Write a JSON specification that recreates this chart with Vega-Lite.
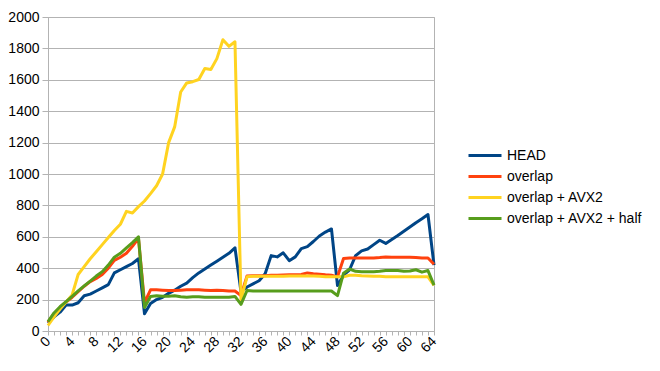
{
  "$schema": "https://vega.github.io/schema/vega-lite/v6.json",
  "width": 386,
  "height": 314,
  "autosize": {"type": "none"},
  "padding": {"left": 48, "top": 17, "right": 226, "bottom": 40},
  "background": "white",
  "config": {
    "view": {"stroke": "#b3b3b3", "strokeWidth": 1},
    "font": "Liberation Sans",
    "axis": {"labelFont": "Liberation Sans", "labelFontSize": 14, "labelColor": "#000000", "domainColor": "#b3b3b3", "tickColor": "#b3b3b3", "gridColor": "#b3b3b3", "title": null}
  },
  "datasets": {
    "head": [
      {"x":0,"v":50},{"x":1,"v":90},{"x":2,"v":120},{"x":3,"v":165},{"x":4,"v":165},{"x":5,"v":180},{"x":6,"v":225},{"x":7,"v":235},{"x":8,"v":255},{"x":9,"v":275},{"x":10,"v":295},{"x":11,"v":370},{"x":12,"v":390},{"x":13,"v":410},{"x":14,"v":430},{"x":15,"v":460},
      {"x":16,"v":110},{"x":17,"v":175},{"x":18,"v":200},{"x":19,"v":215},{"x":20,"v":240},{"x":21,"v":260},{"x":22,"v":285},{"x":23,"v":305},{"x":24,"v":340},{"x":25,"v":370},{"x":26,"v":395},{"x":27,"v":420},{"x":28,"v":445},{"x":29,"v":470},{"x":30,"v":495},{"x":31,"v":530},
      {"x":32,"v":250},{"x":33,"v":280},{"x":34,"v":300},{"x":35,"v":320},{"x":36,"v":365},{"x":37,"v":480},{"x":38,"v":472},{"x":39,"v":498},{"x":40,"v":448},{"x":41,"v":472},{"x":42,"v":525},{"x":43,"v":537},{"x":44,"v":570},{"x":45,"v":605},{"x":46,"v":630},{"x":47,"v":650},
      {"x":48,"v":290},{"x":49,"v":355},{"x":50,"v":390},{"x":51,"v":480},{"x":52,"v":510},{"x":53,"v":522},{"x":54,"v":550},{"x":55,"v":578},{"x":56,"v":558},{"x":57,"v":583},{"x":58,"v":608},{"x":59,"v":635},{"x":60,"v":662},{"x":61,"v":690},{"x":62,"v":715},{"x":63,"v":742},
      {"x":64,"v":420}
    ],
    "overlap": [
      {"x":0,"v":55},{"x":1,"v":110},{"x":2,"v":150},{"x":3,"v":185},{"x":4,"v":215},{"x":5,"v":250},{"x":6,"v":285},{"x":7,"v":315},{"x":8,"v":335},{"x":9,"v":360},{"x":10,"v":400},{"x":11,"v":450},{"x":12,"v":470},{"x":13,"v":495},{"x":14,"v":540},{"x":15,"v":590},
      {"x":16,"v":180},{"x":17,"v":262},{"x":18,"v":262},{"x":19,"v":260},{"x":20,"v":258},{"x":21,"v":258},{"x":22,"v":260},{"x":23,"v":262},{"x":24,"v":262},{"x":25,"v":262},{"x":26,"v":260},{"x":27,"v":258},{"x":28,"v":260},{"x":29,"v":258},{"x":30,"v":255},{"x":31,"v":255},
      {"x":32,"v":225},{"x":33,"v":350},{"x":34,"v":352},{"x":35,"v":352},{"x":36,"v":352},{"x":37,"v":355},{"x":38,"v":355},{"x":39,"v":357},{"x":40,"v":358},{"x":41,"v":358},{"x":42,"v":360},{"x":43,"v":370},{"x":44,"v":365},{"x":45,"v":362},{"x":46,"v":358},{"x":47,"v":355},
      {"x":48,"v":345},{"x":49,"v":462},{"x":50,"v":465},{"x":51,"v":465},{"x":52,"v":465},{"x":53,"v":465},{"x":54,"v":465},{"x":55,"v":468},{"x":56,"v":472},{"x":57,"v":470},{"x":58,"v":470},{"x":59,"v":470},{"x":60,"v":470},{"x":61,"v":468},{"x":62,"v":465},{"x":63,"v":465},
      {"x":64,"v":425}
    ],
    "avx2": [
      {"x":0,"v":35},{"x":1,"v":90},{"x":2,"v":140},{"x":3,"v":185},{"x":4,"v":230},{"x":5,"v":360},{"x":6,"v":410},{"x":7,"v":460},{"x":8,"v":505},{"x":9,"v":550},{"x":10,"v":595},{"x":11,"v":640},{"x":12,"v":680},{"x":13,"v":762},{"x":14,"v":752},{"x":15,"v":792},
      {"x":16,"v":828},{"x":17,"v":875},{"x":18,"v":925},{"x":19,"v":1000},{"x":20,"v":1200},{"x":21,"v":1300},{"x":22,"v":1522},{"x":23,"v":1580},{"x":24,"v":1588},{"x":25,"v":1602},{"x":26,"v":1672},{"x":27,"v":1666},{"x":28,"v":1735},{"x":29,"v":1855},{"x":30,"v":1813},{"x":31,"v":1842},
      {"x":32,"v":200},{"x":33,"v":345},{"x":34,"v":348},{"x":35,"v":348},{"x":36,"v":348},{"x":37,"v":348},{"x":38,"v":348},{"x":39,"v":348},{"x":40,"v":350},{"x":41,"v":350},{"x":42,"v":350},{"x":43,"v":350},{"x":44,"v":350},{"x":45,"v":348},{"x":46,"v":345},{"x":47,"v":345},
      {"x":48,"v":345},{"x":49,"v":345},{"x":50,"v":355},{"x":51,"v":355},{"x":52,"v":352},{"x":53,"v":350},{"x":54,"v":348},{"x":55,"v":348},{"x":56,"v":345},{"x":57,"v":345},{"x":58,"v":345},{"x":59,"v":345},{"x":60,"v":345},{"x":61,"v":345},{"x":62,"v":345},{"x":63,"v":345},
      {"x":64,"v":290}
    ],
    "half": [
      {"x":0,"v":60},{"x":1,"v":115},{"x":2,"v":155},{"x":3,"v":187},{"x":4,"v":220},{"x":5,"v":255},{"x":6,"v":287},{"x":7,"v":318},{"x":8,"v":350},{"x":9,"v":378},{"x":10,"v":420},{"x":11,"v":470},{"x":12,"v":495},{"x":13,"v":530},{"x":14,"v":563},{"x":15,"v":600},
      {"x":16,"v":150},{"x":17,"v":220},{"x":18,"v":225},{"x":19,"v":222},{"x":20,"v":222},{"x":21,"v":225},{"x":22,"v":218},{"x":23,"v":215},{"x":24,"v":218},{"x":25,"v":218},{"x":26,"v":215},{"x":27,"v":215},{"x":28,"v":215},{"x":29,"v":215},{"x":30,"v":215},{"x":31,"v":220},
      {"x":32,"v":170},{"x":33,"v":258},{"x":34,"v":255},{"x":35,"v":255},{"x":36,"v":255},{"x":37,"v":255},{"x":38,"v":255},{"x":39,"v":255},{"x":40,"v":255},{"x":41,"v":255},{"x":42,"v":255},{"x":43,"v":255},{"x":44,"v":255},{"x":45,"v":255},{"x":46,"v":255},{"x":47,"v":255},
      {"x":48,"v":225},{"x":49,"v":368},{"x":50,"v":395},{"x":51,"v":380},{"x":52,"v":378},{"x":53,"v":378},{"x":54,"v":378},{"x":55,"v":380},{"x":56,"v":385},{"x":57,"v":385},{"x":58,"v":385},{"x":59,"v":380},{"x":60,"v":382},{"x":61,"v":390},{"x":62,"v":375},{"x":63,"v":385},
      {"x":64,"v":292}
    ]
  },
  "encoding": {
    "x": {
      "field": "x", "type": "quantitative",
      "scale": {"domain": [0, 64], "nice": false, "zero": false},
      "axis": {
        "values": [0,1,2,3,4,5,6,7,8,9,10,11,12,13,14,15,16,17,18,19,20,21,22,23,24,25,26,27,28,29,30,31,32,33,34,35,36,37,38,39,40,41,42,43,44,45,46,47,48,49,50,51,52,53,54,55,56,57,58,59,60,61,62,63,64],
        "format": "d",
        "labelExpr": "datum.value % 4 === 0 ? datum.label : ''",
        "labelAngle": -45, "labelAlign": "right", "labelBaseline": "middle",
        "labelOverlap": false, "labelFlush": false,
        "tickSize": 4, "labelPadding": 4, "grid": false, "title": null
      }
    },
    "y": {
      "field": "v", "type": "quantitative",
      "scale": {"domain": [0, 2000], "nice": false},
      "axis": {
        "values": [0,200,400,600,800,1000,1200,1400,1600,1800,2000],
        "format": "d",
        "tickSize": 6, "labelPadding": 3, "grid": true, "title": null
      }
    }
  },
  "layer": [
    {
      "data": {"name": "head"},
      "mark": {"type": "line", "strokeWidth": 3, "strokeJoin": "round"},
      "encoding": {
        "color": {
          "datum": "HEAD", "type": "nominal",
          "scale": {"domain": ["HEAD", "overlap", "overlap + AVX2", "overlap + AVX2 + half"], "range": ["#004586", "#ff420e", "#ffd320", "#579d1c"]},
          "legend": {
            "title": null, "orient": "none", "legendX": 419, "legendY": 128,
            "symbolType": "stroke", "symbolSize": 1089, "symbolStrokeWidth": 3,
            "labelFont": "Liberation Sans", "labelFontSize": 14, "labelColor": "#000000",
            "labelOffset": 4, "clipHeight": 21, "rowPadding": 0, "padding": 0
          }
        }
      }
    },
    {
      "data": {"name": "overlap"},
      "mark": {"type": "line", "strokeWidth": 3, "strokeJoin": "round"},
      "encoding": {"color": {"datum": "overlap", "type": "nominal"}}
    },
    {
      "data": {"name": "avx2"},
      "mark": {"type": "line", "strokeWidth": 3, "strokeJoin": "round"},
      "encoding": {"color": {"datum": "overlap + AVX2", "type": "nominal"}}
    },
    {
      "data": {"name": "half"},
      "mark": {"type": "line", "strokeWidth": 3, "strokeJoin": "round"},
      "encoding": {"color": {"datum": "overlap + AVX2 + half", "type": "nominal"}}
    }
  ]
}
